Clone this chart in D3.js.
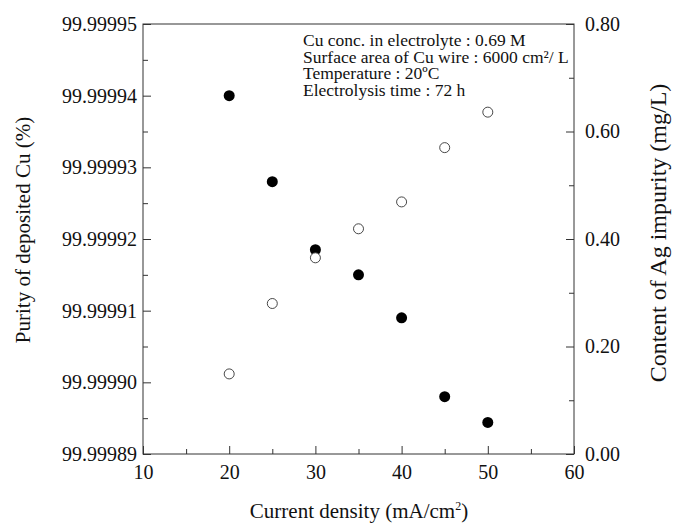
<!DOCTYPE html>
<html>
<head>
<meta charset="utf-8">
<style>
    body { margin: 0; background: #fff; }
    svg text { font-family: "Liberation Serif", serif; }
</style>
</head>
<body>
<svg width="674" height="524"></svg>

<script src="https://cdn.jsdelivr.net/npm/d3@7"></script>
<script>
    // data
    let currentDensity = [20, 25, 30, 35, 40, 45, 50];
    let purity = [99.99994, 99.999928, 99.9999185, 99.999915, 99.999909, 99.999898, 99.9998944];
    let agContent = [0.149, 0.280, 0.365, 0.419, 0.469, 0.570, 0.636];

    let xTicks = [10, 20, 30, 40, 50, 60];
    let xMinor = [15, 25, 35, 45, 55];
    let leftTicks = [99.99989, 99.99990, 99.99991, 99.99992, 99.99993, 99.99994, 99.99995];
    let leftMinor = [99.999895, 99.999905, 99.999915, 99.999925, 99.999935, 99.999945];
    let rightTicks = [0, 0.2, 0.4, 0.6, 0.8];
    let rightMinor = [0.1, 0.3, 0.5, 0.7];

    let notes = [
        "Cu conc. in electrolyte : 0.69 M",
        "Surface area of Cu wire : 6000 cm²/ L",
        "Temperature : 20ºC",
        "Electrolysis time : 72 h"
    ];

    let margin = { top: 24, right: 100, bottom: 70, left: 143 };
    let width = 674, height = 524;

    let svg = d3.select("svg");

    let x = d3.scaleLinear().domain([10, 60]).range([margin.left, width - margin.right]);
    let yL = d3.scaleLinear().domain([99.99989, 99.99995]).range([height - margin.bottom, margin.top]);
    let yR = d3.scaleLinear().domain([0, 0.8]).range([height - margin.bottom, margin.top]);

    let x0 = x.range()[0], x1 = x.range()[1];
    let y0 = yL.range()[0], y1 = yL.range()[1];

    // frame
    svg.append("rect")
        .attr("x", x0).attr("y", y1)
        .attr("width", x1 - x0).attr("height", y0 - y1)
        .attr("fill", "none").attr("stroke", "#333").attr("stroke-width", 1);

    function styleAxis(g) {
        g.attr("font-family", null).attr("font-size", 20);
        g.select(".domain").remove();
        g.selectAll(".tick line").attr("stroke", "#333");
        g.selectAll(".tick text")
            .attr("fill", "#111")
            .style("font-family", "Liberation Serif, serif")
            .style("font-size", "20px");
    }

    // bottom axis
    svg.append("g")
        .attr("transform", `translate(0,${y0})`)
        .call(d3.axisBottom(x).tickValues(xTicks).tickSize(-8).tickPadding(11).tickFormat(d3.format("d")))
        .call(styleAxis);
    svg.append("g")
        .attr("transform", `translate(0,${y0})`)
        .call(d3.axisBottom(x).tickValues(xMinor).tickSize(-5).tickFormat(""))
        .call(styleAxis);

    // left axis
    svg.append("g")
        .attr("transform", `translate(${x0},0)`)
        .call(d3.axisLeft(yL).tickValues(leftTicks).tickSize(-8).tickPadding(6).tickFormat(d3.format(".5f")))
        .call(styleAxis);
    svg.append("g")
        .attr("transform", `translate(${x0},0)`)
        .call(d3.axisLeft(yL).tickValues(leftMinor).tickSize(-5).tickFormat(""))
        .call(styleAxis);

    // right axis
    svg.append("g")
        .attr("transform", `translate(${x1},0)`)
        .call(d3.axisRight(yR).tickValues(rightTicks).tickSize(-8).tickPadding(11).tickFormat(d3.format(".2f")))
        .call(styleAxis);
    svg.append("g")
        .attr("transform", `translate(${x1},0)`)
        .call(d3.axisRight(yR).tickValues(rightMinor).tickSize(-5).tickFormat(""))
        .call(styleAxis);

    // axis titles
    let xTitle = svg.append("text")
        .attr("x", (x0 + x1) / 2 + 0.5)
        .attr("y", 518)
        .attr("text-anchor", "middle")
        .attr("font-size", "21px")
        .attr("fill", "#111");
    xTitle.append("tspan").text("Current density (mA/cm");
    xTitle.append("tspan").attr("font-size", "12px").attr("dy", "-8").text("2");
    xTitle.append("tspan").attr("dy", "8").text(")");

    svg.append("text")
        .attr("transform", `translate(30,230) rotate(-90)`)
        .attr("text-anchor", "middle")
        .attr("font-size", "21px")
        .attr("fill", "#111")
        .text("Purity of deposited Cu (%)");

    svg.append("text")
        .attr("transform", `translate(666,233) rotate(-90)`)
        .attr("text-anchor", "middle")
        .attr("font-size", "24px")
        .attr("fill", "#111")
        .text("Content of Ag impurity (mg/L)");

    // annotation block
    svg.append("g")
        .selectAll("text")
        .data(notes)
        .join("text")
        .attr("x", 303)
        .attr("y", (d, i) => 46 + i * 16.7)
        .attr("font-size", "17.5px")
        .attr("fill", "#111")
        .text(d => d);

    // purity points (filled)
    svg.append("g")
        .selectAll("circle")
        .data(currentDensity)
        .join("circle")
        .attr("cx", d => x(d))
        .attr("cy", (d, i) => yL(purity[i]))
        .attr("r", 5.5)
        .attr("fill", "#000");

    // Ag content points (open)
    svg.append("g")
        .selectAll("circle")
        .data(currentDensity)
        .join("circle")
        .attr("cx", d => x(d))
        .attr("cy", (d, i) => yR(agContent[i]))
        .attr("r", 5)
        .attr("fill", "#fff")
        .attr("stroke", "#333")
        .attr("stroke-width", 0.9);
</script>
</body>
</html>
